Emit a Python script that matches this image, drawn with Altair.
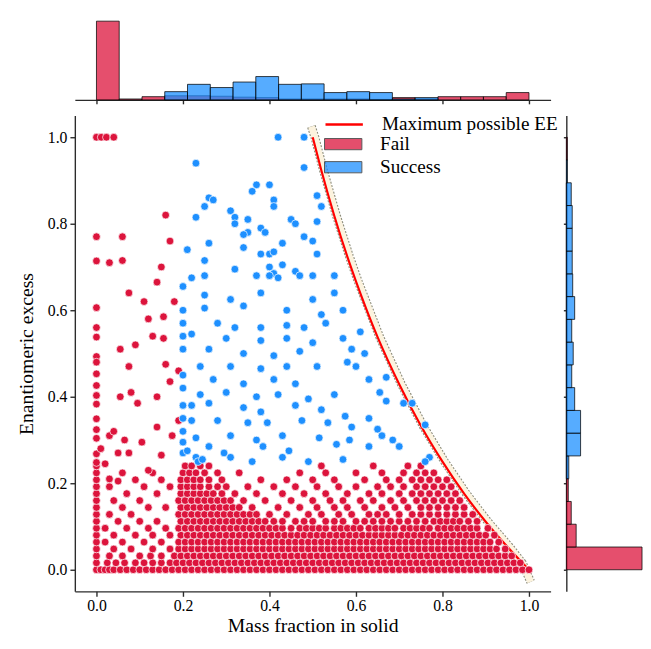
import altair as alt
import pandas as pd

FONT = "Liberation Serif"
AX = "#2b2b2b"
TICKS = [0.0, 0.2, 0.4, 0.6, 0.8, 1.0]

# ---------------- Fail points: rows of (almost) equal EE, values in % ----------------
fail_row_y = [0, 1.6, 3.2, 4.8, 6.4, 8, 9.6, 11.2, 12.8, 14.4, 16, 17.6, 19.2, 20.8, 22.4, 24]
fail_row_x = [
    [0, 1, 2, 3, 4, 5.5, 7, 8.5, 10, 11.5, 13, 14.5, 16, 17.5, 19, 20.5, 22, 23.5, 25, 26.5, 28, 29.5, 31, 32.5, 34,
     35.5, 37, 38.5, 40, 41.5, 43, 44.5, 46, 47.5, 49, 50.5, 52, 53.5, 55, 56.5, 58, 59.5, 61, 62.5, 64, 65.5, 67,
     68.5, 70, 71.5, 73, 74.5, 76, 77.5, 79, 80.5, 82, 83.5, 85, 86.5, 88, 89.5, 91, 92.5, 94, 95.5, 97, 98.5, 100],
    [0, 2.5, 4.5, 6.5, 9, 11, 13, 15, 17, 18.5, 20, 21.5, 23, 24.5, 26, 27.5, 29, 30.5, 32, 33.5, 35, 36.5, 38, 39.5,
     41, 42.5, 44, 45.5, 47, 48.5, 50, 51.5, 53, 54.5, 56, 57.5, 59, 60.5, 62, 63.5, 65, 66.5, 68, 69.5, 71, 72.5, 74,
     75.5, 77, 78.5, 80, 81.5, 83, 84.5, 86, 87.5, 89, 90.5, 92, 93.5, 95, 96.5, 98],
    [0, 3, 6, 10, 12.5, 15, 18, 19.5, 21, 22.5, 24, 25.5, 27, 28.5, 30, 31.5, 33, 34.5, 36, 37.5, 39, 40.5, 42, 43.5,
     45, 46.5, 48, 49.5, 51, 52.5, 54, 55.5, 57, 58.5, 60, 61.5, 63, 64.5, 66, 67.5, 69, 70.5, 72, 73.5, 75, 76.5, 78,
     79.5, 81, 82.5, 84, 85.5, 87, 88.5, 90, 91.5, 93, 94.5, 96],
    [0, 4, 8, 13, 17, 19, 20.5, 22, 23.5, 25, 26.5, 28, 29.5, 31, 32.5, 34, 35.5, 37, 38.5, 40, 41.5, 43, 44.5, 46,
     47.5, 49, 50.5, 52, 53.5, 55, 56.5, 58, 59.5, 61, 62.5, 64, 65.5, 67, 68.5, 70, 71.5, 73, 74.5, 76, 77.5, 79,
     80.5, 82, 83.5, 85, 86.5, 88, 89.5, 91, 92.5, 94.5],
    [0, 2, 6, 11, 15, 19, 20.5, 22, 23.5, 25, 26.5, 28, 29.5, 31, 32.5, 34, 35.5, 37, 38.5, 40, 41.5, 43, 44.5, 46,
     47.5, 49, 50.5, 52, 53.5, 55, 56.5, 58, 59.5, 61, 62.5, 64, 65.5, 67, 68.5, 70, 71.5, 73, 74.5, 76, 77.5, 79,
     80.5, 82, 83.5, 85, 86.5, 88, 89.5, 91, 93],
    [0, 4, 9, 13, 17, 19.5, 21, 22.5, 24, 25.5, 27, 28.5, 30, 31.5, 33, 34.5, 36, 37.5, 39, 40.5, 42, 43.5, 45, 46.5,
     48, 49.5, 51, 52.5, 54, 55.5, 57, 58.5, 60, 61.5, 63, 64.5, 66, 67.5, 69, 70.5, 72, 73.5, 75, 76.5, 78, 79.5, 81,
     82.5, 84, 85.5, 87, 88.5, 90, 92],
    [0, 2, 7, 12, 16, 19, 20.5, 22, 23.5, 25, 26.5, 28, 29.5, 31, 32.5, 34, 35.5, 37, 38.5, 40, 41.5, 43, 45, 47, 48.5,
     50, 51.5, 53, 55, 56.5, 58, 59.5, 61, 63, 64.5, 66, 67.5, 69, 71, 72.5, 74, 75.5, 77, 79, 80.5, 82, 83.5, 85,
     86.5, 88, 90.5],
    [0, 5, 10, 14, 19.5, 21, 22.5, 24, 25.5, 27, 28.5, 30, 31.5, 33, 34.5, 36, 37.5, 39, 41, 43, 46, 48, 50, 53, 55,
     57, 60, 62, 64, 66, 68, 70, 72, 74, 76, 78, 79.5, 81, 82.5, 84, 86, 88],
    [0, 3, 8, 19, 20.5, 22, 23.5, 25, 26.5, 28, 29.5, 31, 32.5, 34, 35.5, 37, 40, 44, 49, 52, 56, 59, 63, 65, 67, 70,
     73, 75, 77, 79, 81, 83, 85, 87],
    [0, 6, 12, 16, 19.5, 21, 22.5, 24, 25.5, 27, 28.5, 30, 31.5, 33, 36, 42, 47, 51, 55, 58, 62, 66, 69, 72, 75, 77,
     79, 81, 83, 85],
    [0, 4, 10, 19, 20.5, 22, 23.5, 25, 26.5, 28, 29.5, 31, 34, 39, 45, 50, 54, 57, 61, 64, 68, 71, 74, 76, 78, 80, 82,
     84],
    [0, 7, 14, 19.5, 21, 22.5, 24, 25.5, 27, 29, 32, 37, 43, 48, 53, 58, 63, 66, 70, 73, 75, 77, 79, 81, 83],
    [0, 3, 11, 17, 19.5, 21, 22.5, 24, 26, 28, 30, 35, 41, 46, 51, 56, 60, 65, 68, 71, 74, 76, 78, 80, 82],
    [0, 9, 15, 19.5, 21, 22.5, 24, 26, 29, 38, 44, 50, 55, 62, 67, 70, 73, 75, 77, 79, 81],
    [0, 6, 13, 20, 21.5, 23, 25, 28, 33, 47, 53, 60, 66, 71, 74, 76, 78],
    [0, 20.5, 22, 24, 26, 52, 64, 72, 75],
]

# sparse Fail points (fractions)
fail_extra = [
    (0, 1.0), (0.011, 1.0), (0.023, 1.0), (0.04, 1.0), (0, 0.77), (0, 0.714), (0.03, 0.71), (0, 0.606),
    (0, 0.56), (0, 0.538), (0, 0.493), (0, 0.48), (0, 0.453), (0, 0.426), (0, 0.403), (0, 0.383), (0, 0.349),
    (0, 0.324), (0, 0.304), (0, 0.268), (0, 0.248), (0.01, 0.28), (0.03, 0.31), (0.05, 0.27), (0.03, 0.21),
    (0.05, 0.205), (0.06, 0.77), (0.06, 0.715), (0.075, 0.64), (0.14, 0.665), (0.15, 0.70), (0.16, 0.82),
    (0.17, 0.76), (0.13, 0.54), (0.155, 0.535), (0.09, 0.52), (0.08, 0.41), (0.055, 0.40), (0.16, 0.475),
    (0.17, 0.435), (0.19, 0.46), (0.155, 0.585), (0.055, 0.51), (0.075, 0.47), (0.095, 0.385), (0.14, 0.40),
    (0.04, 0.32), (0.065, 0.30), (0.105, 0.295), (0.14, 0.33), (0.175, 0.31), (0.19, 0.345), (0.02, 0.245),
    (0.075, 0.27), (0.15, 0.265), (0.12, 0.23), (0.11, 0.62), (0.12, 0.58), (0.18, 0.62),
]

success_points = [
    (0.42, 1.00), (0.48, 1.00), (0.23, 0.94), (0.48, 0.93), (0.37, 0.89), (0.36, 0.875), (0.40, 0.89), (0.26, 0.86),
    (0.27, 0.855), (0.25, 0.84), (0.41, 0.855), (0.41, 0.84), (0.51, 0.865), (0.52, 0.84), (0.31, 0.83), (0.32, 0.815),
    (0.35, 0.81), (0.32, 0.80), (0.45, 0.81), (0.46, 0.80), (0.51, 0.805), (0.23, 0.815), (0.38, 0.79), (0.39, 0.78),
    (0.35, 0.78), (0.34, 0.775), (0.48, 0.77), (0.50, 0.76), (0.43, 0.755), (0.26, 0.755), (0.21, 0.74), (0.34, 0.745),
    (0.38, 0.73), (0.40, 0.73), (0.41, 0.735), (0.51, 0.73), (0.25, 0.715), (0.43, 0.705), (0.32, 0.695), (0.40, 0.70),
    (0.41, 0.685), (0.37, 0.68), (0.46, 0.69), (0.50, 0.68), (0.22, 0.675), (0.25, 0.68), (0.40, 0.68), (0.42, 0.675),
    (0.47, 0.68), (0.55, 0.68), (0.57, 0.60), (0.61, 0.55), (0.60, 0.47), (0.62, 0.50),
    (0.20, 0.655), (0.20, 0.60), (0.20, 0.57), (0.20, 0.54), (0.20, 0.51), (0.20, 0.45), (0.20, 0.42), (0.20, 0.38),
    (0.20, 0.35), (0.20, 0.32), (0.20, 0.295), (0.20, 0.27),
    (0.25, 0.635), (0.31, 0.625), (0.38, 0.64), (0.50, 0.625), (0.55, 0.64),
    (0.25, 0.605), (0.34, 0.61), (0.44, 0.60), (0.52, 0.59),
    (0.28, 0.57), (0.32, 0.56), (0.38, 0.56), (0.44, 0.565), (0.48, 0.56), (0.53, 0.57),
    (0.22, 0.545), (0.30, 0.535), (0.38, 0.53), (0.44, 0.535), (0.50, 0.525), (0.57, 0.535),
    (0.26, 0.51), (0.34, 0.50), (0.41, 0.495), (0.47, 0.505), (0.59, 0.51),
    (0.24, 0.47), (0.31, 0.47), (0.38, 0.465), (0.44, 0.47), (0.51, 0.47), (0.58, 0.48),
    (0.27, 0.44), (0.34, 0.43), (0.41, 0.44), (0.46, 0.43), (0.63, 0.44), (0.67, 0.445),
    (0.24, 0.405), (0.30, 0.41), (0.37, 0.40), (0.42, 0.405), (0.49, 0.395), (0.55, 0.405), (0.655, 0.41),
    (0.22, 0.38), (0.26, 0.385), (0.34, 0.375), (0.38, 0.365), (0.46, 0.38), (0.52, 0.37), (0.575, 0.355),
    (0.63, 0.35), (0.67, 0.39), (0.71, 0.385), (0.73, 0.385), (0.76, 0.335),
    (0.22, 0.345), (0.28, 0.345), (0.35, 0.34), (0.395, 0.34), (0.475, 0.345), (0.535, 0.34), (0.59, 0.33), (0.65, 0.325),
    (0.23, 0.305), (0.31, 0.31), (0.37, 0.30), (0.43, 0.31), (0.515, 0.305), (0.585, 0.30), (0.66, 0.31), (0.685, 0.30),
    (0.21, 0.275), (0.26, 0.285), (0.295, 0.27), (0.385, 0.285), (0.445, 0.275), (0.555, 0.29), (0.63, 0.285), (0.70, 0.285),
    (0.23, 0.26), (0.31, 0.26), (0.36, 0.25), (0.43, 0.26), (0.49, 0.25), (0.57, 0.255), (0.77, 0.26), (0.76, 0.25),
    (0.235, 0.25), (0.245, 0.255),
]

# Maximum possible EE curve
max_ee_x = [0.5, 0.52, 0.55, 0.58, 0.6, 0.65, 0.7, 0.75, 0.8, 0.85, 0.9, 0.95, 1.0]
max_ee_y = [1.0, 0.923, 0.818, 0.724, 0.667, 0.538, 0.429, 0.333, 0.25, 0.176, 0.111, 0.053, 0.0]
# band around the curve
band_x = [0.497, 0.505, 0.525, 0.555, 0.585, 0.605, 0.655, 0.705, 0.755, 0.805, 0.855, 0.905, 0.955, 0.985, 1.004]
band_y = [1.025, 1.0, 0.923, 0.818, 0.724, 0.667, 0.538, 0.429, 0.333, 0.25, 0.176, 0.111, 0.053, 0.015, -0.028]

# marginal histograms (19 bins on [0, 1])
bin_edges = [0, 0.0526, 0.1053, 0.1579, 0.2105, 0.2632, 0.3158, 0.3684, 0.4211, 0.4737, 0.5263, 0.5789,
             0.6316, 0.6842, 0.7368, 0.7895, 0.8421, 0.8947, 0.9474, 1.0]
top_fail = [172, 2, 7, 9, 9, 8, 6, 5, 2, 2, 2, 2, 1, 5, 2, 7, 7, 7, 16]
top_success = [0, 0, 0, 18, 34, 27, 39, 51, 34, 35, 16, 18, 16, 2, 5, 0, 0, 0, 0]
right_fail = [154, 20, 10, 4, 2, 1, 1, 1, 1, 1, 1, 1, 1, 1, 1, 1, 1, 0, 2]
right_success = [0, 0, 0, 0, 5, 29, 29, 17, 11, 14, 11, 17, 13, 12, 12, 12, 10, 2, 0]

RED = "#dc143c"
BLUE = "#1e90ff"

# ---------------- data frames ----------------
rows = []
for yv, xs in zip(fail_row_y, fail_row_x):
    for xv in xs:
        rows.append({"x": xv / 100, "y": yv / 100, "outcome": "Fail"})
for xv, yv in fail_extra:
    rows.append({"x": xv, "y": yv, "outcome": "Fail"})
for xv, yv in success_points:
    rows.append({"x": xv, "y": yv, "outcome": "Success"})
pts_df = pd.DataFrame(rows)

curve_df = pd.DataFrame({"x": max_ee_x, "y": max_ee_y, "series": "Maximum possible EE"})
band_df = pd.DataFrame({"x": band_x, "y": band_y})


def hist_df(counts):
    d = pd.DataFrame({"lo": bin_edges[:-1], "hi": bin_edges[1:], "n": counts})
    return d[d["n"] > 0]


MAIN_W, MAIN_H = 484, 484
xsc = alt.Scale(domain=[-0.05, 1.05], nice=False, zero=False)
ysc = alt.Scale(domain=[-0.05, 1.05], nice=False, zero=False)

line_axis = dict(values=TICKS, grid=False, domainColor=AX, tickColor=AX, domainWidth=1.4, tickWidth=1.4,
                 labelFlush=False)

x_axis = alt.Axis(format=".1f", title="Mass fraction in solid", tickSize=5, labelPadding=1, titlePadding=3,
                  labelFontSize=16, titleFontSize=20, labelFont=FONT, titleFont=FONT, labelColor="black",
                  titleColor="black", titleFontWeight="normal", **line_axis)
y_axis = alt.Axis(format=".1f", title="Enantiomeric excess", tickSize=5, labelPadding=3, titlePadding=11,
                  labelFontSize=16, titleFontSize=20, labelFont=FONT, titleFont=FONT, labelColor="black",
                  titleColor="black", titleFontWeight="normal", **line_axis)

X = alt.X("x:Q", scale=xsc, axis=x_axis)
Y = alt.Y("y:Q", scale=ysc, axis=y_axis)

band_outer = alt.Chart(band_df).mark_line(color="#8d8d7c", strokeWidth=9, strokeDash=[2, 1.5]).encode(x=X, y=Y)
band_inner = alt.Chart(band_df).mark_line(color="#fcf3de", strokeWidth=6.8).encode(x=X, y=Y)
red_line = alt.Chart(curve_df).mark_line(strokeWidth=2.2, interpolate="monotone").encode(
    x=X, y=Y,
    stroke=alt.Stroke("series:N", scale=alt.Scale(domain=["Maximum possible EE"], range=["#ff0000"]),
                      legend=alt.Legend(title=None, orient="none", legendX=263, legendY=-2,
                                        symbolType="M-2,0H2", symbolSize=361, symbolStrokeWidth=2.5,
                                        labelFont=FONT, labelFontSize=19.5, labelColor="black",
                                        labelOffset=27.5, padding=0, labelLimit=400)),
)
points = alt.Chart(pts_df).mark_circle(size=62, opacity=1, stroke="white", strokeWidth=0.7).encode(
    x=X, y=Y,
    color=alt.Color("outcome:N", scale=alt.Scale(domain=["Fail", "Success"], range=[RED, BLUE]),
                    legend=alt.Legend(title=None, orient="none", legendX=263, legendY=19,
                                      symbolType="M-2,-0.6H2V0.6H-2Z", symbolSize=361, symbolOpacity=0.75,
                                      symbolStrokeColor="#222222", symbolStrokeWidth=1, labelFont=FONT,
                                      labelFontSize=19.5, labelColor="black", labelOffset=27.5, rowPadding=3.5,
                                      padding=0, labelLimit=400)),
    order=alt.Order("outcome:N"),
)
main = alt.layer(band_outer, band_inner, red_line, points).properties(width=MAIN_W, height=MAIN_H)

# top marginal
top_axis = alt.Axis(labels=False, title=None, tickSize=4, **line_axis)
bar_style = dict(fillOpacity=0.75, stroke="black", strokeOpacity=0.75, strokeWidth=1)
top_y = alt.Y("n:Q", scale=alt.Scale(domain=[0, 189], nice=False), axis=None)
top_fail_ch = alt.Chart(hist_df(top_fail)).mark_rect(fill=RED, **bar_style).encode(
    x=alt.X("lo:Q", scale=xsc, axis=top_axis), x2="hi:Q", y=top_y, y2=alt.datum(0))
top_succ_ch = alt.Chart(hist_df(top_success)).mark_rect(fill=BLUE, **bar_style).encode(
    x=alt.X("lo:Q", scale=xsc, axis=top_axis), x2="hi:Q", y=top_y, y2=alt.datum(0))
top = alt.layer(top_fail_ch, top_succ_ch).properties(width=MAIN_W, height=88)

# right marginal
right_axis = alt.Axis(labels=False, title=None, tickSize=3, **line_axis)
right_x = alt.X("n:Q", scale=alt.Scale(domain=[0, 154], nice=False), axis=None)
right_fail_ch = alt.Chart(hist_df(right_fail)).mark_rect(fill=RED, **bar_style).encode(
    y=alt.Y("lo:Q", scale=ysc, axis=right_axis), y2="hi:Q", x=right_x, x2=alt.datum(0))
right_succ_ch = alt.Chart(hist_df(right_success)).mark_rect(fill=BLUE, **bar_style).encode(
    y=alt.Y("lo:Q", scale=ysc, axis=right_axis), y2="hi:Q", x=right_x, x2=alt.datum(0))
right = alt.layer(right_fail_ch, right_succ_ch).properties(width=77, height=MAIN_H)

row = alt.hconcat(main, right, spacing=16, bounds="flush").resolve_scale(
    color="independent", stroke="independent").resolve_legend(color="independent", stroke="independent")

chart = alt.vconcat(top, row, spacing=16, bounds="flush").resolve_scale(
    color="independent", stroke="independent").resolve_legend(
    color="independent", stroke="independent").properties(
    padding={"left": 9, "top": 0, "right": 0, "bottom": 0}, background="white"
).configure_view(stroke=None).configure_axis(labelFont=FONT, titleFont=FONT).configure_legend(
    labelFont=FONT)

chart.save("out.html", embed_options={"renderer": "svg", "actions": False})
